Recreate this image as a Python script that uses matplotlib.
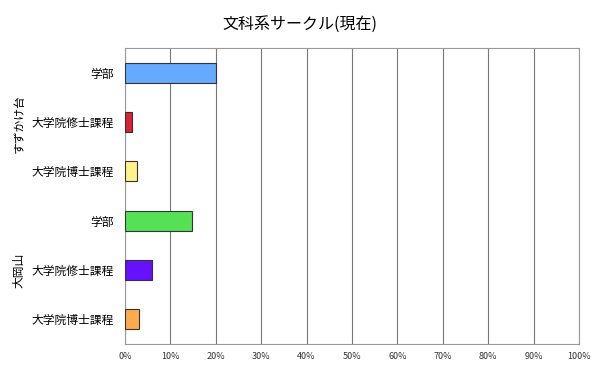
import matplotlib
matplotlib.use("Agg")
import matplotlib.pyplot as plt
from matplotlib.ticker import FuncFormatter

plt.rcParams['font.family'] = ['Noto Sans CJK JP', 'DejaVu Sans']

TITLE = "文科系サークル(現在)"
CATEGORIES = ["学部", "大学院修士課程", "大学院博士課程",
              "学部", "大学院修士課程", "大学院博士課程"]
GROUPS = ["すずかけ台", "大岡山"]
VALUES = [20.0, 1.6, 2.7, 14.8, 6.0, 3.0]  # percent
COLORS = ["#66aaff", "#dd2233", "#fff28a", "#55e055", "#6611ff", "#ffaa4c"]
XTICKS = list(range(0, 101, 10))

fig = plt.figure(figsize=(6.0, 3.74), dpi=100)
ax = fig.add_axes([0.2083, 0.0802, 0.7567, 0.7915])

ypos = list(range(len(CATEGORIES)))
ax.barh(ypos, VALUES, height=0.4, color=COLORS, edgecolor="#333333",
        linewidth=0.8, zorder=3)

ax.set_xlim(0, 100)
ax.set_ylim(len(CATEGORIES) - 0.5, -0.5)
ax.set_xticks(XTICKS)
ax.xaxis.set_major_formatter(FuncFormatter(lambda v, p: f"{int(v)}%"))
ax.set_yticks(ypos)
ax.set_yticklabels(CATEGORIES, fontsize=8.5)
ax.tick_params(axis="x", labelsize=6.5, length=0, pad=6, colors="#333333")
ax.tick_params(axis="y", length=0, pad=8)
ax.grid(axis="x", color="#777777", linewidth=0.8, zorder=0)

for s in ax.spines.values():
    s.set_color("#999999")
    s.set_linewidth(0.8)

fig.text(0.5, 0.935, TITLE, ha="center", va="center", fontsize=11.5)

# group labels, rotated
fig.text(0.032, 1 - 124 / 374, GROUPS[0], rotation=90, ha="center",
         va="center", fontsize=8.5)
fig.text(0.032, 1 - 270 / 374, GROUPS[1], rotation=90, ha="center",
         va="center", fontsize=8.5)

fig.savefig("out.png", dpi=100)
